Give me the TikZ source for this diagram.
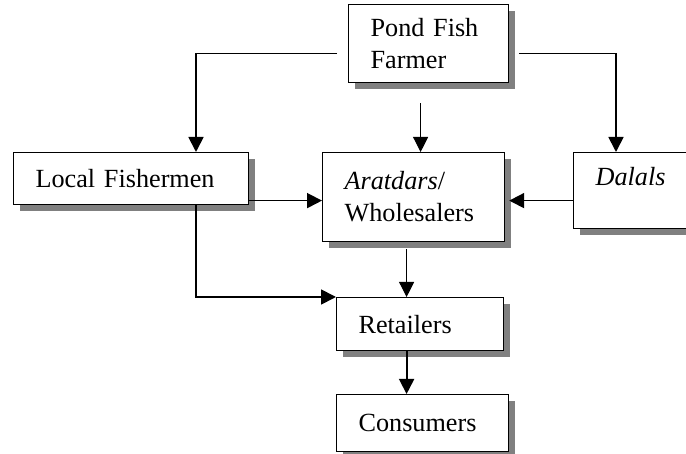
\documentclass[tikz,border=0pt]{standalone}
\usepackage{fontspec}
\setmainfont{Liberation Serif}
\usetikzlibrary{arrows.meta, positioning, calc, shadows}
\definecolor{boxgray}{RGB}{128, 128, 128}

\begin{document}
\begin{tikzpicture}[x=0.5pt, y=-0.5pt,
    box/.style={draw, line width=0.6pt, fill=white, anchor=north west, align=left,
        inner xsep=11pt, inner ysep=0pt, font=\rmfamily\fontsize{13.1}{16}\selectfont,
        drop shadow={shadow xshift=3pt, shadow yshift=-3pt, fill=boxgray, opacity=1}},
    flow/.style={line width=0.9pt, -{Triangle[length=7.5pt, width=7.5pt]}}]
    \useasboundingbox (0,0) rectangle (686,454);
    \clip (0,0) rectangle (686,454);

    % Cajas
    \node[box, text width=58pt, minimum height=39pt] (farmer) at (348,4) {Pond Fish\\Farmer};
    \node[box, text width=95.5pt, minimum height=26pt] (fisher) at (13,152) {Local Fishermen};
    \node[box, text width=69pt, minimum height=44.5pt] (whole) at (322,152) {\textit{Aratdars}/\\Wholesalers};
    \node[box, text width=53pt, minimum height=38pt, text height=9pt, text depth=14pt] (dalal) at (573,152) {\textit{Dalals}};
    \node[box, text width=61.5pt, minimum height=26.5pt] (retail) at (336,297) {Retailers};
    \node[box, text width=64pt, minimum height=28.5pt] (consumer) at (336,394) {Consumers};

    % Desde el productor
    \draw[flow] ($(farmer.west)+(-11,10)$) -| ($(fisher.north west)+(183,0)$);
    \draw[flow] ($(farmer.east)+(10,10)$) -| ($(dalal.north west)+(43,0)$);
    \draw[flow, line width=0.5pt] ($(farmer.south)+(-8,20)$) coordinate (p) -- (p |- whole.north);

    % Hacia mayoristas
    \draw[flow] ($(fisher.east)+(0,22)$) -- ($(whole.west)+(0,3.5)$);
    \draw[flow] ($(dalal.west)+(0,10)$) -- ($(whole.east)+(4,3.5)$);

    % Hacia minoristas y consumidores
    \draw[flow, line width=0.5pt] ($(whole.south)+(-7,7)$) coordinate (r) -- (r |- retail.north);
    \draw[flow] ($(fisher.south west)+(183,0)$) |- (retail.north west);
    \draw[flow] ($(retail.south)+(-13.5,0)$) coordinate (s) -- (s |- consumer.north);
\end{tikzpicture}
\end{document}
